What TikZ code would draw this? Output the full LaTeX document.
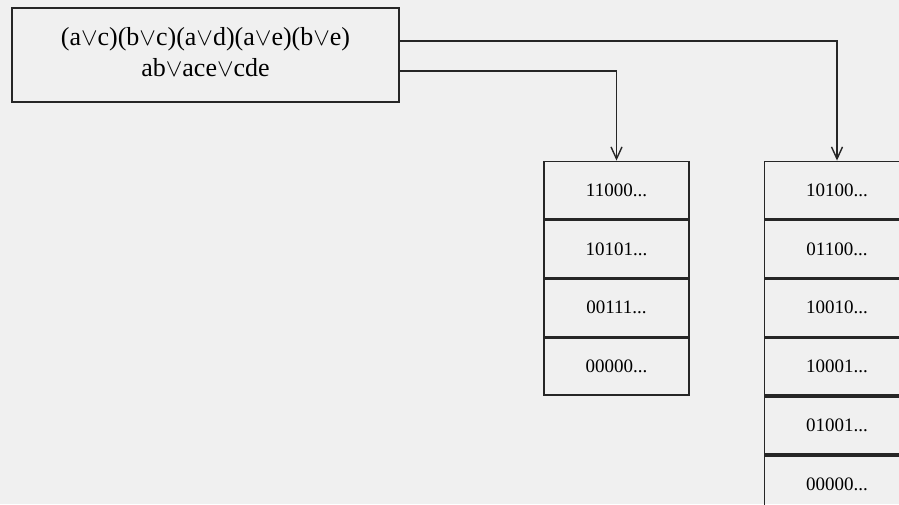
\documentclass[tikz,border=0pt]{standalone}
\usepackage{fontspec}
\setmainfont{Liberation Serif}
\usetikzlibrary{arrows.meta,positioning}
\begin{document}
\begin{tikzpicture}[x=1pt,y=-1pt,
  line/.style={draw=black!85,line width=1.7pt},
  box/.style={line,rectangle,inner sep=0pt,minimum width=387pt,minimum height=94pt},
  boxtext/.style={align=center,font=\fontsize{26}{31}\selectfont},
  cell/.style={line,rectangle,inner sep=0pt,minimum width=145pt,minimum height=57.2pt,font=\fontsize{19}{22}\selectfont},
  conn/.style={line,-{Straight Barb[length=12pt,width=11pt,line width=1.4pt]}}]
\useasboundingbox[fill=black!6] (0,0) rectangle (899,504);
\node[box] (top) at (205.5,55) {};
\node[boxtext] (toptext) at (205.5,52) {(a$\vee$c)(b$\vee$c)(a$\vee$d)(a$\vee$e)(b$\vee$e)\\ ab$\vee$ace$\vee$cde};
% left column
\node[cell] (l1) at (616.5,190) {11000...};
\node[cell,below=0pt of l1] (l2) {10101...};
\node[cell,below=0pt of l2] (l3) {00111...};
\node[cell,below=0pt of l3] (l4) {00000...};
% right column
\node[cell] (r1) at (837,190) {10100...};
\node[cell,below=0pt of r1] (r2) {01100...};
\node[cell,below=0pt of r2] (r3) {10010...};
\node[cell,below=0pt of r3] (r4) {10001...};
\node[cell,below=0pt of r4] (r5) {01001...};
\node[cell,below=0pt of r5] (r6) {00000...};
% connectors
\draw[conn] (top.east |- 0,41) -| (r1.north);
\draw[conn] (top.east |- 0,71) -| (l1.north);
\end{tikzpicture}
\end{document}
